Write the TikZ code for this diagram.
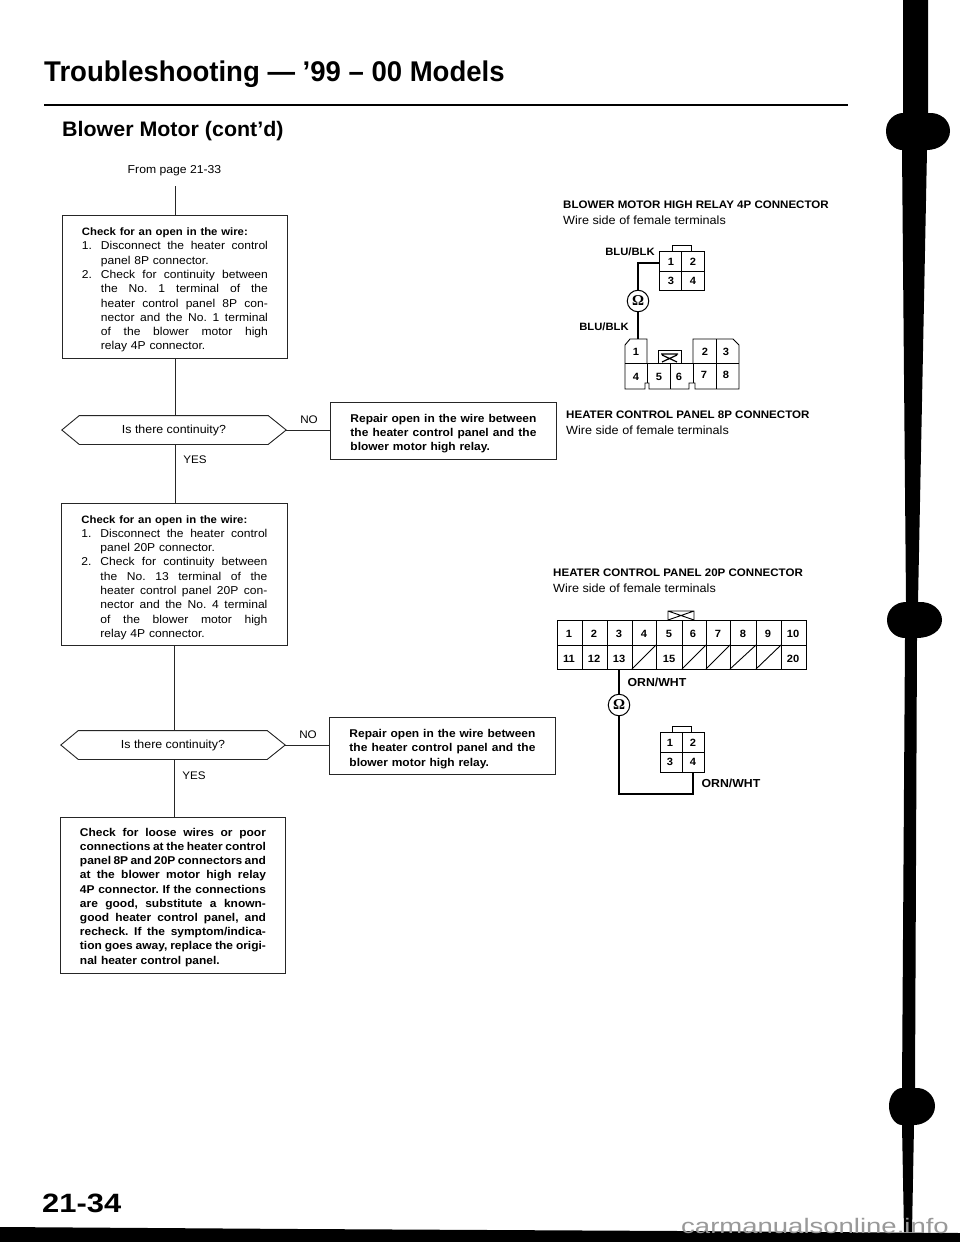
\documentclass[tikz,border=0pt]{standalone}
\usepackage{fontspec}
\usetikzlibrary{calc}
\setmainfont[FakeStretch=1.06]{Liberation Sans}
\newfontfamily\plainsans{Liberation Sans}
\newfontfamily\omegafont{Liberation Serif}
\newcommand{\jl}[1]{\makebox[167pt][s]{\frenchspacing\spaceskip=0pt\xspaceskip=0pt #1}}
\newcommand{\jb}[1]{\makebox[186pt][s]{\frenchspacing\spaceskip=0pt\xspaceskip=0pt #1}}
\newcommand{\lab}[1]{\makebox[19pt][l]{#1}}
\newcommand{\headbold}{\fontsize{10.7}{14.3}\selectfont\bfseries}
\tikzset{
  x=1pt,y=-1pt,
  ink/.style={draw=black!85,line width=0.9pt},
  wire/.style={draw=black,line width=1.1pt},
  boxnode/.style={ink,anchor=north west,inner sep=0pt,align=left,text width=186pt,font=\fontsize{11.4}{14.3}\selectfont},
  boldbox/.style={boxnode,font=\fontsize{11.3}{14.3}\selectfont\bfseries},
  hexnode/.style={inner sep=0pt,font=\fontsize{11.7}{14.3}\selectfont},
  arm/.style={inner sep=0pt,font=\fontsize{11}{13}\selectfont},
  caplabel/.style={inner sep=0pt,anchor=west,font=\fontsize{10.9}{12}\selectfont\bfseries},
  sublabel/.style={inner sep=0pt,anchor=west,font=\fontsize{11.9}{13}\selectfont},
  wirelabel/.style={inner sep=0pt,font=\fontsize{10.6}{12}\selectfont\bfseries},
  wirelabelb/.style={inner sep=0pt,font=\fontsize{11.6}{12}\selectfont\bfseries},
  pin/.style={inner sep=0pt,font=\fontsize{10.5}{11}\selectfont\bfseries},
  ohm/.style={circle,draw=black,line width=1pt,minimum size=21.5pt,inner sep=0pt,font=\fontsize{15}{15}\selectfont\omegafont\bfseries},
  conn/.style={draw=black,line width=0.9pt},
}
\newcommand{\hexpath}[1]{%
  \draw[ink] (#1.west) -- ($(#1.north west)+(17.5,0)$) -- ($(#1.north east)+(-18,0)$) -- (#1.east)
   -- ($(#1.south east)+(-18,0)$) -- ($(#1.south west)+(17.5,0)$) -- cycle;}
\begin{document}
\begin{tikzpicture}
\useasboundingbox (0,0) rectangle (960,1242);
\fill[white] (0,0) rectangle (960,1242);
% header
\node[inner sep=0pt,anchor=base west,font=\fontsize{28.5}{30}\selectfont\plainsans\bfseries] (title) at (44,81.5) {\scalebox{0.966}[1]{Troubleshooting — ’99 – 00 Models}};
\coordinate (ruleL) at (44,105); \coordinate (ruleR) at (848,105);
\draw[line width=1.4pt] (ruleL) -- (ruleR);
\node[inner sep=0pt,anchor=base west,font=\fontsize{21}{23}\selectfont\plainsans\bfseries] (sub) at (62,136) {\scalebox{1.02}[1]{Blower Motor (cont’d)}};
\node[inner sep=0pt,font=\fontsize{11.5}{12}\selectfont] (from) at (174.5,171) {From page 21-33};
\coordinate (start) at (175,186);
% flow boxes
\node[boxnode,minimum width=225pt,minimum height=143pt] (b1) at (62,215) {\rule{0pt}{14pt}{\headbold Check for an open in the wire:}\\
\lab{1.}\jl{Disconnect the heater control}\\
\lab{}panel 8P connector.\\
\lab{2.}\jl{Check for continuity between}\\
\lab{}\jl{the No. 1 terminal of the}\\
\lab{}\jl{heater control panel 8P con-}\\
\lab{}\jl{nector and the No. 1 terminal}\\
\lab{}\jl{of the blower motor high}\\
\lab{}relay 4P connector.};
\node[hexnode,minimum width=224pt,minimum height=28.5pt] (d1) at (174,430) {\raisebox{-2pt}{Is there continuity?}};
\hexpath{d1}
\node[boldbox,minimum width=226pt,minimum height=56.5pt] (r1) at (330,402) {\rule{0pt}{14pt}\jb{Repair open in the wire between}\\ \jb{the heater control panel and the}\\ blower motor high relay.};
\node[arm] (no1) at (309,420) {NO};
\node[arm] (yes1) at (195,460) {YES};
\node[boxnode,minimum width=226pt,minimum height=142pt] (b2) at (61,503) {\rule{0pt}{14pt}{\headbold Check for an open in the wire:}\\
\lab{1.}\jl{Disconnect the heater control}\\
\lab{}panel 20P connector.\\
\lab{2.}\jl{Check for continuity between}\\
\lab{}\jl{the No. 13 terminal of the}\\
\lab{}\jl{heater control panel 20P con-}\\
\lab{}\jl{nector and the No. 4 terminal}\\
\lab{}\jl{of the blower motor high}\\
\lab{}relay 4P connector.};
\node[hexnode,minimum width=224pt,minimum height=28.5pt] (d2) at (173,745) {\raisebox{-2pt}{Is there continuity?}};
\hexpath{d2}
\node[boldbox,minimum width=226pt,minimum height=57pt] (r2) at (329,717) {\rule{0pt}{14pt}\jb{Repair open in the wire between}\\ \jb{the heater control panel and the}\\ blower motor high relay.};
\node[arm] (no2) at (308,735) {NO};
\node[arm] (yes2) at (194,776) {YES};
\node[boldbox,minimum width=225pt,minimum height=156pt,font=\fontsize{11.3}{14.2}\selectfont\bfseries] (b3) at (60,817) {\rule{0pt}{12pt}\jb{Check for loose wires or poor}\\
\jb{connections at the heater control}\\
\jb{panel 8P and 20P connectors and}\\
\jb{at the blower motor high relay}\\
\jb{4P connector. If the connections}\\
\jb{are good, substitute a known-}\\
\jb{good heater control panel, and}\\
\jb{recheck. If the symptom/indica-}\\
\jb{tion goes away, replace the origi-}\\
nal heater control panel.};
% flow connectors
\draw[ink] (start) -- (start |- b1.north);
\draw[ink] (start |- b1.south) -- (start |- d1.north);
\draw[ink] (start |- d1.south) -- (start |- b2.north);
\draw[ink] (b2.south) -- (b2.south |- d2.north);
\draw[ink] (b2.south |- d2.south) -- (b2.south |- b3.north);
\draw[ink] (d1.east) -- (r1.west |- d1.east);
\draw[ink] (d2.east) -- (r2.west |- d2.east);
% right labels
\node[caplabel] (l1) at (563,205) {BLOWER MOTOR HIGH RELAY 4P CONNECTOR};
\node[sublabel] (l1s) at (563,220) {Wire side of female terminals};
\node[caplabel] (l2) at (566,415) {HEATER CONTROL PANEL 8P CONNECTOR};
\node[sublabel] (l2s) at (566,430) {Wire side of female terminals};
\node[caplabel] (l3) at (553,573) {HEATER CONTROL PANEL 20P CONNECTOR};
\node[sublabel] (l3s) at (553,588) {Wire side of female terminals};
% 4P connector top
\draw[conn] (659,251) rectangle (704,290) (681.5,251) -- (681.5,290) (659,271) -- (704,271);
\draw[conn] (672,251) -- (672,245.5) -- (691,245.5) -- (691,251);
\foreach \n/\px/\py in {1/671/262,2/693/262,3/671/281,4/693/281} \node[pin] (ta\n) at (\px,\py) {\n};
\node[wirelabel] (w1) at (630,252) {BLU/BLK};
\node[wirelabel] (w2) at (604,327) {BLU/BLK};
\node[ohm] (o1) at (638,301) {Ω};
\coordinate (ta) at (659,263); \coordinate (tb) at (638,339);
\draw[wire] (ta) -| (o1.north);
\draw[wire] (o1.south) -- (tb);
% 8P connector
\draw[conn] (647,363) -- (647,339) -- (630,339) -- (625,345) -- (625,389) -- (645,389) -- (645,383) -- (649,383) -- (649,389)
  -- (689,389) -- (689,383) -- (695,383) -- (695,389) -- (739,389) -- (739,345) -- (733,339) -- (693,339) -- (693,363);
\draw[conn] (625,363) -- (739,363) (647,363) -- (647,383) (670,363) -- (670,389) (693,363) -- (693,383) (716,339) -- (716,389);
\draw[conn] (658,363) -- (658,350) -- (681,350) -- (681,363);
\draw[conn,line width=1.2pt] (661,354) -- (678,354) (662,355) -- (677,362) (677,355) -- (662,362);
\foreach \n/\px/\py in {1/636/352,2/705/352,3/726/352,4/636/377,5/659/377,6/679/377,7/704/375,8/726/375} \node[pin] (tb\n) at (\px,\py) {\n};
% 20P connector
\draw[conn] (557,620) rectangle (806,669) (557,645) -- (806,645);
\foreach \vx in {582,607,632,656,682,706,730,756,781} \draw[conn] (\vx,620) -- (\vx,669);
\foreach \dx/\ex in {632/656,682/706,706/730,730/756,756/781} \draw[conn] (\dx,669) -- (\ex,645);
\draw[conn] (668,620) -- (668,611) -- (694,611) -- (694,620) (668,611) -- (694,620) (694,611) -- (668,620);
\foreach \n/\px in {1/569,2/594,3/619,4/644,5/669,6/693,7/718,8/743,9/768,10/793} \node[pin] (tc\n) at (\px,634) {\n};
\foreach \n/\px in {11/569,12/594,13/619,15/669,20/793} \node[pin] (tc\n) at (\px,659) {\n};
\node[wirelabelb] (w3) at (657,682) {ORN/WHT};
\node[ohm] (o2) at (619,705) {Ω};
\coordinate (tc) at (619,669); \coordinate (td) at (693,772);
\draw[wire] (tc) -- (o2.north);
\draw[wire] (o2.south) |- (693,794) -- (td);
\draw[conn] (660,732) rectangle (704,772) (682,732) -- (682,772) (660,752) -- (704,752);
\draw[conn] (672,732) -- (672,726) -- (691,726) -- (691,732);
\foreach \n/\px/\py in {1/670/743,2/693/743,3/670/762,4/693/762} \node[pin] (td\n) at (\px,\py) {\n};
\node[wirelabelb] (w4) at (731,783) {ORN/WHT};
% page number
\node[inner sep=0pt,anchor=base west,font=\fontsize{26.5}{28}\selectfont\bfseries] (pg) at (42,1212) {\scalebox{1.1}[1]{21-34}};
% thumb bar
\fill[black] (903,0) -- (928,0) -- (928,113)
  .. controls (940,112) and (950,120) .. (950,131)
  .. controls (950,143) and (938,150) .. (927,150)
  -- (918,602)
  .. controls (932,601) and (942,610) .. (942,620)
  .. controls (942,631) and (930,638) .. (917,638)
  -- (915,1088)
  .. controls (926,1087) and (935,1096) .. (935,1106)
  .. controls (935,1117) and (925,1125) .. (914,1125)
  -- (912,1232) -- (904,1232) -- (902,1125)
  .. controls (895,1125) and (889,1116) .. (889,1106)
  .. controls (889,1096) and (895,1088) .. (902,1088)
  -- (905,638)
  .. controls (895,638) and (887,630) .. (887,620)
  .. controls (887,610) and (895,602) .. (906,602)
  -- (902,150)
  .. controls (895,150) and (886,143) .. (886,131)
  .. controls (886,120) and (895,113) .. (903,113) -- cycle;
\fill[black] (0,1227) -- (300,1229) -- (680,1231) -- (960,1233) -- (960,1242) -- (0,1242) -- cycle;
\node[inner sep=0pt,anchor=base west,text=black!40,font=\fontsize{21}{22}\selectfont\plainsans] (wm) at (681,1233) {\scalebox{1.31}[1]{carmanualsonline.info}};
\end{tikzpicture}
\end{document}
